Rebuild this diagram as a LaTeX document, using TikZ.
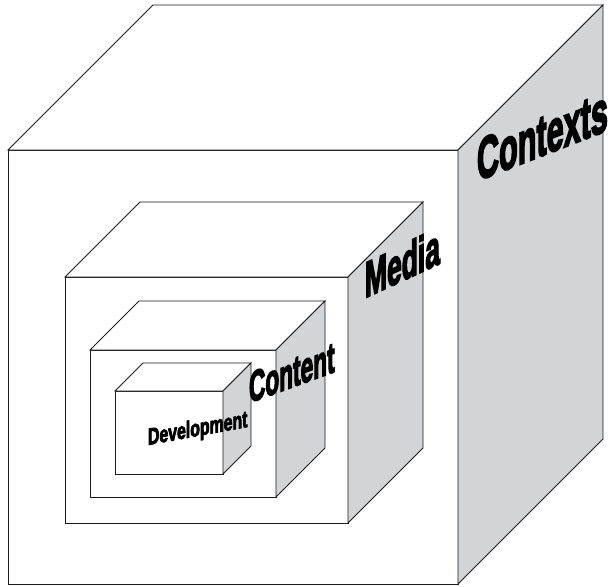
\documentclass[tikz,border=0pt]{standalone}
\usepackage{fontspec}
\newfontfamily\heavyfont[BoldFeatures={FakeBold=4}]{Liberation Sans}
\definecolor{sidegray}{HTML}{D3D4D6}
\definecolor{edgeblack}{HTML}{1A1A1A}
\tikzset{
  face/.style={draw=edgeblack, line width=0.8pt, line join=miter, fill=white},
  sideface/.style={face, fill=sidegray},
  wordart/.style={anchor=base west, inner sep=0pt, outer sep=0pt, transform shape, text=black, font=\heavyfont\bfseries},
}
% #1,#2 front top-left ; #3,#4 front bottom-right ; #5 depth
\newcommand\boxcube[5]{%
  \filldraw[face] (#1,#2) rectangle (#3,#4);
  \filldraw[face] (#1,#2) -- ({#1+#5},{#2-#5}) -- ({#3+#5},{#2-#5}) -- (#3,#2) -- cycle;
  \filldraw[sideface] (#3,#2) -- ({#3+#5},{#2-#5}) -- ({#3+#5},{#4-#5}) -- (#3,#4) -- cycle;
}
\begin{document}
\begin{tikzpicture}[x=1pt,y=-1pt]
\useasboundingbox[fill=white] (0,0) rectangle (615,586);
% cubes from outside in
\boxcube{8}{150}{458}{584}{145}
\boxcube{65}{277}{348}{523}{75}
\boxcube{90}{350}{276}{497}{49}
\boxcube{115}{391}{223}{474}{28}
% labels
\begin{scope}[shift={(477,181)}, cm={0.68,0.265,0,1.3,(0,0)}]
  \node[wordart, font=\heavyfont\bfseries\fontsize{45}{45}\selectfont] (contexts) at (0,0) {Contexts};
\end{scope}
\begin{scope}[shift={(365,298)}, cm={0.63,0.29,0,1.2,(0,0)}]
  \node[wordart, font=\heavyfont\bfseries\fontsize{42}{42}\selectfont] (media) at (0,0) {Media};
\end{scope}
\begin{scope}[shift={(249,403)}, cm={0.63,0.23,0,1.2,(0,0)}]
  \node[wordart, font=\heavyfont\bfseries\fontsize{36}{36}\selectfont] (content) at (0,0) {Content};
\end{scope}
\begin{scope}[shift={(148,445)}, cm={0.88,0.16,0,1.3,(0,0)}]
  \node[wordart, font=\heavyfont\bfseries\fontsize{18}{18}\selectfont] (development) at (0,0) {Development};
\end{scope}
\end{tikzpicture}
\end{document}
